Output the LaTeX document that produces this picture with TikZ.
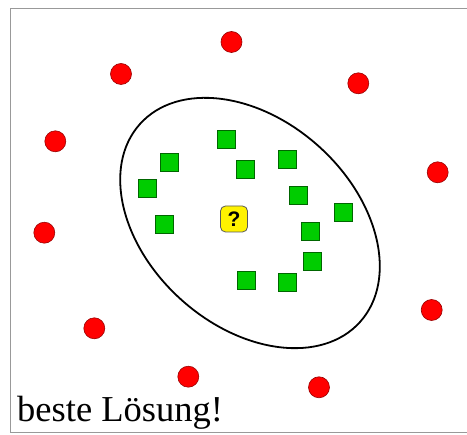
\documentclass[tikz,border=0pt]{standalone}
\usepackage{fontspec}
\usetikzlibrary{shapes.geometric}
\setmainfont{Liberation Serif}
\newfontfamily\qfont{Liberation Sans}
\begin{document}
\begin{tikzpicture}[x=1pt,y=-1pt,
  redpt/.style={circle,fill=red,draw=red!60!black,line width=0.6pt,minimum size=21pt,inner sep=0pt},
  greenpt/.style={rectangle,fill=green!80!black,draw=green!40!black,line width=0.5pt,minimum size=18pt,inner sep=0pt},
  querybox/.style={rectangle,rounded corners=5pt,fill=yellow,draw=black!65,line width=0.8pt,minimum width=27pt,minimum height=26pt,inner sep=0pt,font=\qfont\bfseries\fontsize{21}{21}\selectfont}]
\useasboundingbox (0,0) rectangle (467,435);
\fill[white] (0,0) rectangle (467,435);
\draw[black!40,line width=1pt] (10,9) rectangle (470,433);
% ellipse
\node[draw=black,line width=1.8pt,ellipse,inner sep=0pt,minimum width=296pt,minimum height=206pt,rotate=-42] (ell) at (250,223) {};
% red circles
\node[redpt] (r1) at (231.5,42) {};
\node[redpt] (r2) at (121,74) {};
\node[redpt] (r3) at (358.3,83.3) {};
\node[redpt] (r4) at (55.3,141.3) {};
\node[redpt] (r5) at (437.7,172.3) {};
\node[redpt] (r6) at (44.3,232.7) {};
\node[redpt] (r7) at (94.3,328.3) {};
\node[redpt] (r8) at (431.7,310) {};
\node[redpt] (r9) at (188.3,376.7) {};
\node[redpt] (r10) at (319,387.3) {};
% green squares
\node[greenpt] (g1) at (226.7,139) {};
\node[greenpt] (g2) at (169,162.7) {};
\node[greenpt] (g3) at (245,169.3) {};
\node[greenpt] (g4) at (287,159.3) {};
\node[greenpt] (g5) at (147.7,188.7) {};
\node[greenpt] (g6) at (298.3,195.3) {};
\node[greenpt] (g7) at (343.7,212.7) {};
\node[greenpt] (g8) at (164.7,224) {};
\node[greenpt] (g9) at (310.3,231) {};
\node[greenpt] (g10) at (312.7,261.3) {};
\node[greenpt] (g11) at (246.7,280) {};
\node[greenpt] (g12) at (287,282) {};
% query
\node[querybox] (q) at (234,219) {?};
% label
\node[anchor=base west,inner sep=0pt,font=\fontsize{36.5}{36.5}\selectfont] (lbl) at (17,421.5) {beste Lösung!};
\end{tikzpicture}
\end{document}
